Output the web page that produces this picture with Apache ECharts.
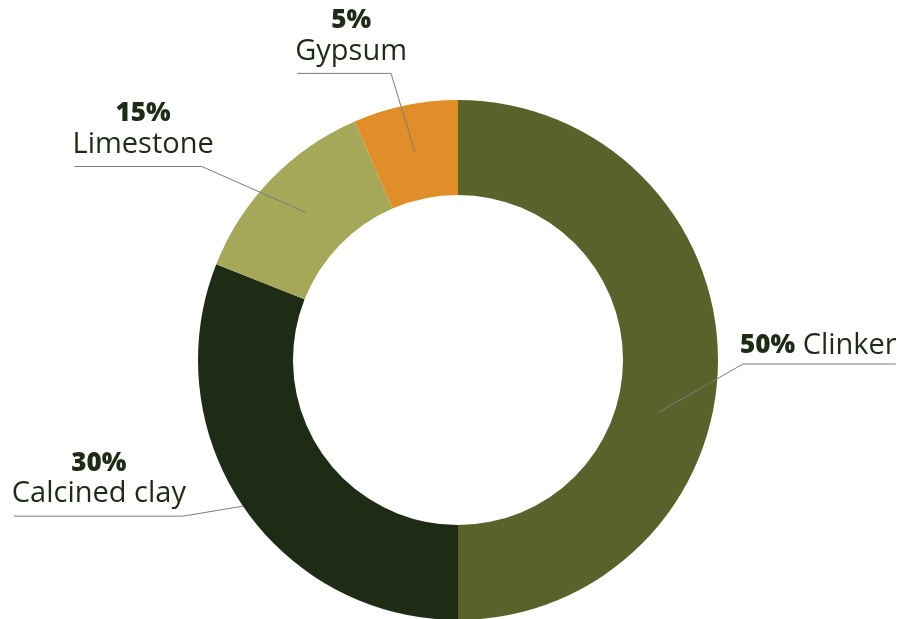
<!DOCTYPE html>
<html><head><meta charset="utf-8">
<script src="https://cdn.jsdelivr.net/npm/echarts@6/dist/echarts.min.js"></script>
<style>html,body{margin:0;padding:0;background:#fff}#c{width:905px;height:619px}</style>
</head><body><div id="c"></div>
<script>
// ---- data ----
const categories = ['Clinker', 'Calcined clay', 'Limestone', 'Gypsum'];
const shares = [50, 31, 12.5, 6.5];
const shareLabels = ['50%', '30%', '15%', '5%'];

// ---- styles / label layout (not data) ----
const colors = ['#5b612b', '#1e2b15', '#a4a858', '#e08e29'];
const textColor = '#1e2b16';
const labelSide = ['right', 'left', 'left', 'left'];
const fromOuterEdge = [false, true, false, false];
const startOffset = [[-11, 52], [0, 0], [0, 0], [0, 0]];
const elbowOffset = [[73, 4], [-60, 10], [-104, -46], [-24, -79]];
const textOverhang = [3, 3, 12, 16];
const textLift = [2, 6, 6, 6];

const chart = echarts.init(document.getElementById('c'), null, {renderer: 'canvas'});

function labelLayout(params) {
  const i = params.dataIndex;
  const pts = params.labelLinePoints;
  if (!pts) return {};
  const a = pts[0];
  const p0 = [a[0] + startOffset[i][0], a[1] + startOffset[i][1]];
  const e = [a[0] + elbowOffset[i][0], a[1] + elbowOffset[i][1]];
  const w = params.labelRect.width;
  const y = e[1] - textLift[i];
  if (labelSide[i] === 'right') {
    const left = e[0] - textOverhang[i];
    return {x: left, y: y, align: 'left', verticalAlign: 'bottom',
      labelLinePoints: [p0, e, [left + w - 1, e[1]]]};
  }
  const right = e[0] + textOverhang[i];
  return {x: right - w / 2, y: y, align: 'center', verticalAlign: 'bottom',
    labelLinePoints: [p0, e, [right - w + 2, e[1]]]};
}

const labelOpt = {
  position: 'outside',
  fontFamily: 'Open Sans',
  fontSize: 29,
  color: textColor,
  formatter: function (p) {
    const i = p.dataIndex;
    return labelSide[i] === 'right'
      ? '{p|' + shareLabels[i] + '} {n|' + categories[i] + '}'
      : '{p|' + shareLabels[i] + '}\n{n|' + categories[i] + '}';
  },
  rich: {
    p: {fontFamily: 'Open Sans', fontWeight: 800, fontSize: 26, color: textColor, lineHeight: 30},
    n: {fontFamily: 'Open Sans', fontSize: 29, color: textColor, lineHeight: 32}
  }
};
const lineOpt = {show: true, length: 10, length2: 10, lineStyle: {color: '#7d7d7d', width: 1}};

function items(showFn, transparent) {
  return categories.map(function (name, i) {
    return {
      name: name,
      value: shares[i],
      itemStyle: {color: transparent ? 'rgba(0,0,0,0)' : colors[i]},
      label: {show: showFn(i)},
      labelLine: {show: showFn(i)}
    };
  });
}

chart.setOption({
  animation: false,
  backgroundColor: '#ffffff',
  series: [
    {
      type: 'pie',
      center: [458, 360],
      radius: [165, 260],
      startAngle: 90,
      clockwise: true,
      avoidLabelOverlap: false,
      emphasis: {disabled: true},
      label: labelOpt,
      labelLine: lineOpt,
      labelLayout: labelLayout,
      data: items(function (i) { return fromOuterEdge[i]; }, false)
    },
    {
      type: 'pie',
      center: [458, 360],
      radius: [0, 212],
      startAngle: 90,
      clockwise: true,
      silent: true,
      z: 3,
      avoidLabelOverlap: false,
      emphasis: {disabled: true},
      label: labelOpt,
      labelLine: lineOpt,
      labelLayout: labelLayout,
      data: items(function (i) { return !fromOuterEdge[i]; }, true)
    }
  ]
});
</script>
</body></html>
